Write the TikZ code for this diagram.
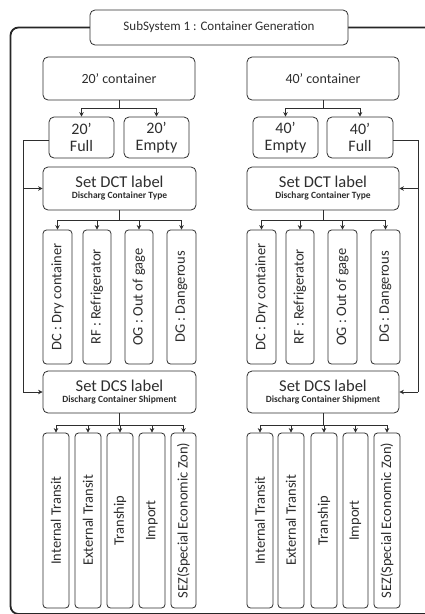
\documentclass[tikz,border=0pt]{standalone}
\usepackage{fontspec}
\setmainfont{Carlito}
\usetikzlibrary{arrows.meta}
\definecolor{ink}{HTML}{2E2E2E}
\tikzset{
  box/.style={draw=ink, line width=0.8pt, rounded corners=5pt, fill=white,
    inner sep=0pt, align=center, text=ink},
  tallbox/.style={box, rounded corners=3.5pt},
  arr/.style={draw=ink, line width=0.8pt, -{Stealth[length=4.5pt,width=4.5pt]}},
  link/.style={draw=ink, line width=0.8pt},
  frame/.style={draw=black!85, line width=1.8pt, rounded corners=8pt},
  vtext/.style={rotate=90, font=\fontsize{14.5}{15}\selectfont},
}
\begin{document}
\begin{tikzpicture}[x=1pt,y=-1pt]
\useasboundingbox (0,0) rectangle (425,614);

% outer frame of the subsystem
\draw[frame] (430,27.5) -- (10.5,27.5) -- (10.5,614) -- (430,614);

% title
\node[box, minimum width=258pt, minimum height=35pt,
  font=\fontsize{13}{14}\selectfont] (title) at (219,27.5) {SubSystem 1 : Container Generation};

% ---------- 20' branch ----------
\node[box, minimum width=152pt, minimum height=43pt, font=\fontsize{14}{15}\selectfont]
  (c20) at (119,78.5) {20’ container};
\node[box, minimum width=65pt, minimum height=41pt, font=\fontsize{16}{17}\selectfont]
  (f20) at (81.5,137.5) {20’\\Full};
\node[box, minimum width=65pt, minimum height=41pt, font=\fontsize{16}{17}\selectfont]
  (e20) at (156.5,137.5) {20’\\Empty};

\node[box, minimum width=153pt, minimum height=43pt] (dctL) at (119.5,188.5)
  {{\fontsize{16.5}{18}\selectfont Set DCT label}\\[-1pt]{\fontsize{9.5}{10}\selectfont\bfseries Discharg Container Type}};

\node[tallbox, minimum width=29pt, minimum height=134pt] (dcL) at (57.5,297) {};
\node[vtext, text=ink] at (dcL) {DC : Dry container};
\node[tallbox, minimum width=28pt, minimum height=134pt] (rfL) at (97,297) {};
\node[vtext, text=ink] at (rfL) {RF : Refrigerator};
\node[tallbox, minimum width=28pt, minimum height=134pt] (ogL) at (139,297) {};
\node[vtext, text=ink] at (ogL) {OG : Out of gage};
\node[tallbox, minimum width=29pt, minimum height=134pt] (dgL) at (181.5,297) {};
\node[vtext, text=ink] at (dgL) {DG : Dangerous};

\node[box, minimum width=153pt, minimum height=42pt] (dcsL) at (119.5,392)
  {{\fontsize{16.5}{18}\selectfont Set DCS label}\\[-1pt]{\fontsize{9.5}{10}\selectfont\bfseries Discharg Container Shipment}};

\node[tallbox, minimum width=26pt, minimum height=175pt] (itL) at (56,520.5) {};
\node[vtext, text=ink] at (itL) {Internal Transit};
\node[tallbox, minimum width=26pt, minimum height=175pt] (etL) at (88,520.5) {};
\node[vtext, text=ink] at (etL) {External Transit};
\node[tallbox, minimum width=26pt, minimum height=175pt] (tsL) at (120,520.5) {};
\node[vtext, text=ink] at (tsL) {Tranship};
\node[tallbox, minimum width=26pt, minimum height=175pt] (imL) at (152,520.5) {};
\node[vtext, text=ink] at (imL) {Import};
\node[tallbox, minimum width=25pt, minimum height=175pt] (szL) at (183.5,520.5) {};
\node[vtext, text=ink] at (szL) {SEZ(Special Economic Zon)};

% ---------- 40' branch ----------
\node[box, minimum width=152pt, minimum height=43pt, font=\fontsize{14}{15}\selectfont]
  (c40) at (323,78.5) {40’ container};
\node[box, minimum width=65pt, minimum height=41pt, font=\fontsize{16}{17}\selectfont]
  (e40) at (285.5,137.5) {40’\\Empty};
\node[box, minimum width=66pt, minimum height=41pt, font=\fontsize{16}{17}\selectfont]
  (f40) at (360,137.5) {40’\\Full};

\node[box, minimum width=152pt, minimum height=43pt] (dctR) at (323,188.5)
  {{\fontsize{16.5}{18}\selectfont Set DCT label}\\[-1pt]{\fontsize{9.5}{10}\selectfont\bfseries Discharg Container Type}};

\node[tallbox, minimum width=29pt, minimum height=134pt] (dcR) at (261.5,297) {};
\node[vtext, text=ink] at (dcR) {DC : Dry container};
\node[tallbox, minimum width=28pt, minimum height=134pt] (rfR) at (300,297) {};
\node[vtext, text=ink] at (rfR) {RF : Refrigerator};
\node[tallbox, minimum width=29pt, minimum height=134pt] (ogR) at (342.5,297) {};
\node[vtext, text=ink] at (ogR) {OG : Out of gage};
\node[tallbox, minimum width=29pt, minimum height=134pt] (dgR) at (385.5,297) {};
\node[vtext, text=ink] at (dgR) {DG : Dangerous};

\node[box, minimum width=152pt, minimum height=42pt] (dcsR) at (323,392)
  {{\fontsize{16.5}{18}\selectfont Set DCS label}\\[-1pt]{\fontsize{9.5}{10}\selectfont\bfseries Discharg Container Shipment}};

\node[tallbox, minimum width=26pt, minimum height=175pt] (itR) at (260,520.5) {};
\node[vtext, text=ink] at (itR) {Internal Transit};
\node[tallbox, minimum width=26pt, minimum height=175pt] (etR) at (291,520.5) {};
\node[vtext, text=ink] at (etR) {External Transit};
\node[tallbox, minimum width=26pt, minimum height=175pt] (tsR) at (324,520.5) {};
\node[vtext, text=ink] at (tsR) {Tranship};
\node[tallbox, minimum width=25pt, minimum height=175pt] (imR) at (355.5,520.5) {};
\node[vtext, text=ink] at (imR) {Import};
\node[tallbox, minimum width=26pt, minimum height=175pt] (szR) at (387,520.5) {};
\node[vtext, text=ink] at (szR) {SEZ(Special Economic Zon)};

% ---------- connectors ----------
\coordinate (jc20) at (119,108);
\draw[link] (c20.south) -- (jc20);
\foreach \t in {f20,e20} \draw[arr] (jc20) -| (\t.north);
\coordinate (jc40) at (323,108);
\draw[link] (c40.south) -- (jc40);
\foreach \t in {e40,f40} \draw[arr] (jc40) -| (\t.north);

\coordinate (jtL) at (119.5,220);
\draw[link] (dctL.south) -- (jtL);
\foreach \t in {dcL,rfL,ogL,dgL} \draw[arr] (jtL) -| (\t.north);
\coordinate (jtR) at (323,220);
\draw[link] (dctR.south) -- (jtR);
\foreach \t in {dcR,rfR,ogR,dgR} \draw[arr] (jtR) -| (\t.north);

\coordinate (jsL) at (119.5,425);
\draw[link] (dcsL.south) -- (jsL);
\foreach \t in {itL,etL,tsL,imL,szL} \draw[arr] (jsL) -| (\t.north);
\coordinate (jsR) at (323,425);
\draw[link] (dcsR.south) -- (jsR);
\foreach \t in {itR,etR,tsR,imR,szR} \draw[arr] (jsR) -| (\t.north);

% full containers feed the labelling steps
\coordinate (busL) at (23,140);
\draw[link] (f20.west |- busL) -- (busL) -- (busL |- dcsL.west);
\draw[arr] (busL |- dctL.west) -- (dctL.west);
\draw[arr] (busL |- dcsL.west) -- (dcsL.west);
\coordinate (busR) at (418,140);
\draw[link] (f40.east |- busR) -- (busR) -- (busR |- dcsR.east);
\draw[arr] (busR |- dctR.east) -- (dctR.east);
\draw[arr] (busR |- dcsR.east) -- (dcsR.east);
\end{tikzpicture}
\end{document}
